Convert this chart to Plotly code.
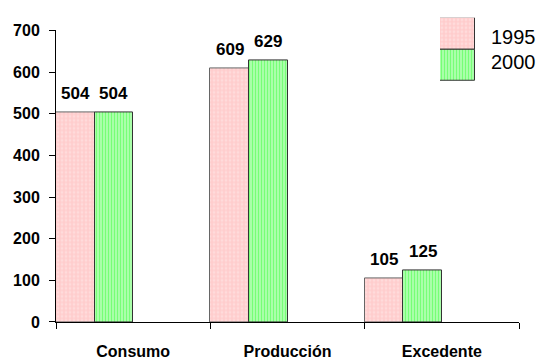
import plotly.graph_objects as go

categories = ["Consumo", "Producción", "Excedente"]
years = ["1995", "2000"]
values_1995 = [504, 609, 105]
values_2000 = [504, 629, 125]
y_ticks = [0, 100, 200, 300, 400, 500, 600, 700]

idx = list(range(len(categories)))
font = "Liberation Sans, Arial, sans-serif"

pink_pattern = dict(shape=".", bgcolor="#FFCCCC", fgcolor="#FFEAEA", size=4, solidity=0.4)
green_pattern = dict(shape="|", bgcolor="#CCFFCC", fgcolor="#22FF22", size=3, solidity=0.6)

BAR_W = 0.25
series = [
    (values_1995, -0.5, "#FFCCCC", pink_pattern, "#666666"),
    (values_2000, -0.25, "#CCFFCC", green_pattern, "#333333"),
]

fig = go.Figure()

for vals, off, col, pat, edge in series:
    fig.add_trace(go.Bar(
        x=idx, y=vals, offset=off, width=BAR_W,
        marker=dict(color=col, pattern=pat, line=dict(color=edge, width=1)),
        showlegend=False,
    ))
    # value labels above each bar
    for i, v in zip(idx, vals):
        fig.add_annotation(
            x=i + off + BAR_W / 2, y=v, xref="x", yref="y",
            text=str(v), showarrow=False, yanchor="bottom", yshift=7,
            font=dict(family=font, size=17, color="black", weight="bold"),
        )

# legend swatches on a small inset axis
fig.add_trace(go.Bar(
    x=[0], y=[1], base=[1], width=1,
    marker=dict(color="#FFCCCC", pattern=pink_pattern, line=dict(color="#333333", width=1)),
    xaxis="x3", yaxis="y3", showlegend=False, hoverinfo="skip",
))
fig.add_trace(go.Bar(
    x=[0], y=[1], base=[0], width=1,
    marker=dict(color="#CCFFCC", pattern=green_pattern, line=dict(color="#333333", width=1)),
    xaxis="x3", yaxis="y3", showlegend=False, hoverinfo="skip",
))

# invisible trace so the category-label axis is drawn
fig.add_trace(go.Scatter(x=[None], y=[None], xaxis="x2", showlegend=False))

W, H = 537, 360
L, R, T, B = 56, 519, 23, 322   # main plot box in pixels

fig.update_layout(
    width=W, height=H,
    margin=dict(l=L, r=W - R, t=0, b=H - B),
    paper_bgcolor="white", plot_bgcolor="rgba(0,0,0,0)",
    barmode="overlay", bargap=0,
    font=dict(family=font, color="black"),
    xaxis=dict(
        range=[-0.5, 2.5], tickvals=[-0.5, 0.5, 1.5, 2.5], ticktext=["", "", "", ""],
        ticks="outside", ticklen=6, tickcolor="black",
        showline=True, linecolor="black", linewidth=1,
        showgrid=False, zeroline=False, fixedrange=True,
    ),
    xaxis2=dict(
        overlaying="x", range=[-0.5, 2.5], side="bottom",
        tickvals=idx, ticktext=categories, ticks="", showline=False, showgrid=False,
        zeroline=False, ticklabelstandoff=18,
        tickfont=dict(family=font, size=16, color="black", weight="bold"),
    ),
    yaxis=dict(
        domain=[0, (B - T) / B],
        range=[0, 700], tickvals=y_ticks,
        ticks="outside", ticklen=6, tickcolor="black",
        showline=True, linecolor="black", linewidth=1,
        showgrid=False, zeroline=False, ticklabelstandoff=6,
        tickfont=dict(family=font, size=16, color="black", weight="bold"),
    ),
    xaxis3=dict(domain=[(440 - L) / (R - L), (475 - L) / (R - L)], range=[-0.5, 0.5],
                visible=False, anchor="y3"),
    yaxis3=dict(domain=[(B - 75) / B, (B - 10) / B], range=[0, 2],
                visible=False, anchor="x3"),
)

for i, yr in enumerate(years):
    fig.add_annotation(
        text=yr, xref="paper", yref="paper",
        x=(489 - L) / (R - L), y=(B - (30 if i == 0 else 55)) / B,
        xanchor="left", yanchor="middle", showarrow=False,
        font=dict(family=font, size=20, color="black"),
    )

fig.write_html("out.html")
